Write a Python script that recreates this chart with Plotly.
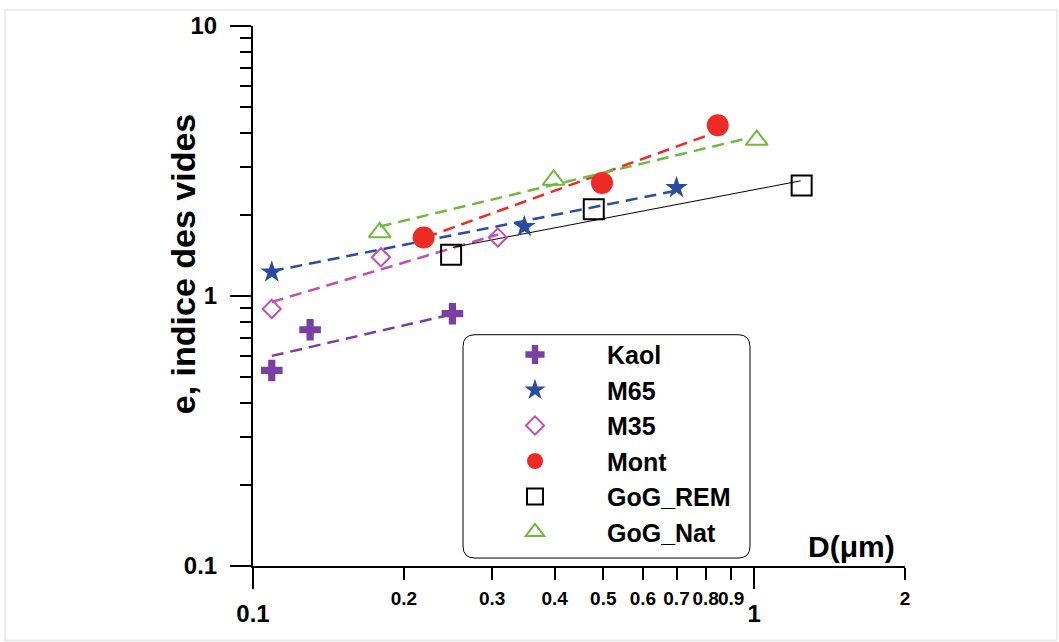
import math
import plotly.graph_objects as go

# ---- data ----
series_names = ["Kaol", "M65", "M35", "Mont", "GoG_REM", "GoG_Nat"]

kaol_x = [0.109, 0.130, 0.250]
kaol_y = [0.530, 0.750, 0.860]
m65_x = [0.109, 0.348, 0.700]
m65_y = [1.225, 1.808, 2.517]
m35_x = [0.109, 0.180, 0.308]
m35_y = [0.896, 1.391, 1.648]
mont_x = [0.219, 0.497, 0.846]
mont_y = [1.648, 2.624, 4.29]
rem_x = [0.2485, 0.4786, 1.244]
rem_y = [1.423, 2.094, 2.566]
nat_x = [0.179, 0.398, 1.012]
nat_y = [1.719, 2.69, 3.78]

# fitted trend lines (end points)
kaol_fit_x = [0.109, 0.249]
kaol_fit_y = [0.60, 0.855]
m65_fit_x = [0.109, 0.698]
m65_fit_y = [1.236, 2.453]
m35_fit_x = [0.109, 0.308]
m35_fit_y = [0.950, 1.690]
mont_fit_x = [0.221, 0.830]
mont_fit_y = [1.648, 4.01]
rem_fit_x = [0.2505, 1.238]
rem_fit_y = [1.514, 2.67]
nat_fit_x = [0.179, 0.970]
nat_fit_y = [1.808, 3.84]

x_minor_ticks = [0.2, 0.3, 0.4, 0.5, 0.6, 0.7, 0.8, 0.9, 2]
x_minor_labels = ["0.2", "0.3", "0.4", "0.5", "0.6", "0.7", "0.8", "0.9", "2"]
x_major_ticks = [0.1, 1]
x_major_labels = ["0.1", "1"]
y_major_ticks = [0.1, 1, 10]
y_major_labels = ["0.1", "1", "10"]
y_minor_ticks = [0.2, 0.3, 0.4, 0.5, 0.6, 0.7, 0.8, 0.9, 2, 3, 4, 5, 6, 7, 8, 9]

FONT = "Liberation Sans, Arial, sans-serif"
PURPLE = "#7B3FA3"
BLUE = "#2B4BA3"
MAGENTA = "#C04FB5"
RED = "#EE2A24"
BLACK = "#000000"
GREEN = "#6CBB3C"

fig = go.Figure()

fits = [
    (kaol_fit_x, kaol_fit_y, PURPLE, "12px,7px", 2.5),
    (m65_fit_x, m65_fit_y, BLUE, "12px,7px", 2.5),
    (m35_fit_x, m35_fit_y, MAGENTA, "12px,7px", 2.5),
    (mont_fit_x, mont_fit_y, RED, "12px,7px", 2.5),
    (rem_fit_x, rem_fit_y, BLACK, "solid", 1),
    (nat_fit_x, nat_fit_y, GREEN, "12px,7px", 2.5),
]
for fx, fy, col, dash, w in fits:
    fig.add_trace(go.Scatter(x=fx, y=fy, mode="lines", showlegend=False,
                             line=dict(color=col, dash=dash, width=w),
                             hoverinfo="skip"))

markers = [
    (kaol_x, kaol_y, dict(symbol="cross", size=18, color=PURPLE)),
    (m65_x, m65_y, dict(symbol="star", size=17, color=BLUE)),
    (m35_x, m35_y, dict(symbol="diamond-open", size=14, color=MAGENTA, line=dict(width=2, color=MAGENTA))),
    (mont_x, mont_y, dict(symbol="circle", size=22, color=RED)),
    (rem_x, rem_y, dict(symbol="square-open", size=20, color=BLACK, line=dict(width=2, color=BLACK))),
    (nat_x, nat_y, dict(symbol="triangle-up-open", size=19, color=GREEN, line=dict(width=2, color=GREEN))),
]
for name, (mx, my, mk) in zip(series_names, markers):
    fig.add_trace(go.Scatter(x=mx, y=my, mode="markers", name=name, marker=mk,
                             legendgroup=name))

# empty trace so the overlaid axis carrying the large "0.1" / "1" labels is drawn
fig.add_trace(go.Scatter(x=[], y=[], xaxis="x2", yaxis="y", showlegend=False,
                         hoverinfo="skip"))

L, R, T, B = 253, 154, 22, 76
W, H = 1059, 642
pw, ph = W - L - R, H - T - B

def px2paper_x(px):
    return (px - L) / pw

def px2paper_y(py):
    return (H - B - py) / ph

xrange = [-1, math.log10(2)]

fig.update_layout(
    width=W, height=H,
    margin=dict(l=L, r=R, t=T, b=B),
    paper_bgcolor="white", plot_bgcolor="white",
    font=dict(family=FONT, color="black"),
    xaxis=dict(type="log", range=xrange, showline=True, linecolor="black", linewidth=2,
               showgrid=False, zeroline=False,
               tickmode="array", tickvals=x_minor_ticks, ticktext=x_minor_labels,
               ticks="outside", ticklen=12, tickwidth=2, tickcolor="black",
               tickangle=0,
               tickfont=dict(size=19, family=FONT, weight="bold"),
               ticklabelstandoff=2),
    xaxis2=dict(type="log", range=xrange, overlaying="x", anchor="y", side="bottom",
                showline=False, showgrid=False, zeroline=False,
                tickmode="array", tickvals=x_major_ticks, ticktext=x_major_labels,
                ticks="outside", ticklen=22, tickwidth=2, tickcolor="black",
                tickangle=0,
                tickfont=dict(size=24, family=FONT, weight="bold"),
                ticklabelstandoff=4),
    yaxis=dict(type="log", range=[-1, 1], showline=True, linecolor="black", linewidth=2,
               showgrid=False, zeroline=False,
               tickmode="array", tickvals=y_major_ticks, ticktext=y_major_labels,
               ticks="outside", ticklen=21, tickwidth=2, tickcolor="black",
               tickfont=dict(size=24, family=FONT, weight="bold"),
               ticklabelstandoff=8,
               minor=dict(tickmode="array", tickvals=y_minor_ticks, ticks="outside",
                          ticklen=11, tickwidth=2, tickcolor="black", showgrid=False)),
    legend=dict(x=px2paper_x(463), y=px2paper_y(330), xanchor="left", yanchor="top",
                bgcolor="rgba(0,0,0,0)", borderwidth=0,
                font=dict(size=25, family=FONT, weight="bold", color="black"),
                itemwidth=134, tracegroupgap=0),
    showlegend=True,
)

# rounded legend frame
x0, x1 = px2paper_x(463), px2paper_x(750)
y0, y1 = px2paper_y(558), px2paper_y(333)
rx, ry = 12 / pw, 12 / ph
path = (f"M {x0+rx},{y0} L {x1-rx},{y0} Q {x1},{y0} {x1},{y0+ry} "
        f"L {x1},{y1-ry} Q {x1},{y1} {x1-rx},{y1} L {x0+rx},{y1} "
        f"Q {x0},{y1} {x0},{y1-ry} L {x0},{y0+ry} Q {x0},{y0} {x0+rx},{y0} Z")
fig.add_shape(type="path", path=path, xref="paper", yref="paper",
              line=dict(color="black", width=1), fillcolor="rgba(0,0,0,0)", layer="below")

# faint page frame
fig.add_shape(type="rect", xref="paper", yref="paper",
              x0=px2paper_x(5), x1=px2paper_x(1057), y0=px2paper_y(641), y1=px2paper_y(6),
              line=dict(color="#e6e6e6", width=1.5), layer="below")

fig.add_annotation(text="e, indice des vides", textangle=-90, showarrow=False,
                   xref="paper", yref="paper", x=px2paper_x(183), y=px2paper_y(262),
                   xanchor="center", yanchor="middle",
                   font=dict(size=34, family=FONT, weight="bold", color="black"))
fig.add_annotation(text="D(μm)", showarrow=False,
                   xref="paper", yref="paper", x=px2paper_x(851), y=px2paper_y(546),
                   xanchor="center", yanchor="middle",
                   font=dict(size=30, family=FONT, weight="bold", color="black"))

fig.write_html("out.html", config={"displayModeBar": False},
               post_script="document.body.style.margin='0';document.body.style.overflow='hidden';")
